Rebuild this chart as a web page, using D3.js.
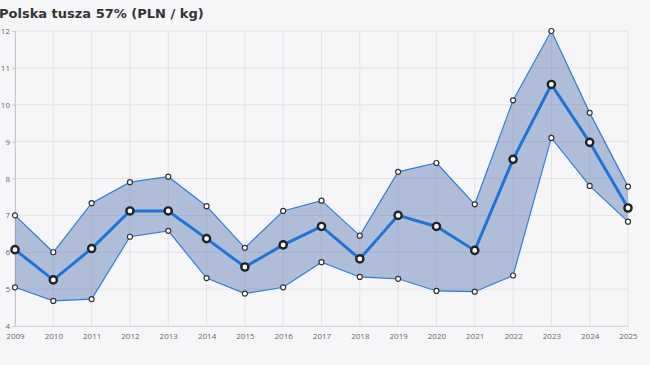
<!DOCTYPE html>
<html>
<head>
<meta charset="utf-8">
<script src="https://cdn.jsdelivr.net/npm/d3@7"></script>
<style>
  body { margin: 0; background: #f6f6f8; }
  svg { display: block; }
  .axis text { font-family: "Open Sans", sans-serif; font-size: 8px; fill: #666; }
  .grid line { stroke: #e3e3e6; }
</style>
</head>
<body>
<svg id="chart" width="650" height="365"></svg>
<script>
const years = [2009, 2010, 2011, 2012, 2013, 2014, 2015, 2016, 2017, 2018, 2019, 2020, 2021, 2022, 2023, 2024, 2025];
const upper = [7.0, 6.0, 7.33, 7.9, 8.05, 7.25, 6.12, 7.12, 7.4, 6.45, 8.18, 8.42, 7.3, 10.12, 12.0, 9.78, 7.78];
const mean = [6.07, 5.25, 6.1, 7.12, 7.12, 6.37, 5.6, 6.2, 6.7, 5.82, 7.0, 6.7, 6.05, 8.52, 10.55, 8.98, 7.2];
const lower = [5.05, 4.68, 4.73, 6.42, 6.58, 5.3, 4.88, 5.05, 5.73, 5.33, 5.28, 4.95, 4.93, 5.37, 9.1, 7.8, 6.83];
const yTicks = [4, 5, 6, 7, 8, 9, 10, 11, 12];
const title = "Polska tusza 57% (PLN / kg)";

const svg = d3.select("#chart"),
    margin = {top: 31, right: 22, bottom: 39, left: 15},
    width = +svg.attr("width") - margin.left - margin.right,
    height = +svg.attr("height") - margin.top - margin.bottom;

const x = d3.scalePoint().domain(years).range([0, width]),
    y = d3.scaleLinear().domain([4, 12]).range([height, 0]);

svg.append("text")
    .attr("x", -1)
    .attr("y", 18)
    .attr("font-family", "DejaVu Sans, sans-serif")
    .attr("font-weight", "bold")
    .attr("font-size", "13px")
    .attr("fill", "#333")
    .text(title);

const g = svg.append("g")
    .attr("transform", "translate(" + margin.left + "," + margin.top + ")");

// grid
g.append("g")
    .attr("class", "grid")
    .selectAll("line.h")
    .data(yTicks)
    .enter()
    .append("line")
    .attr("x1", 0)
    .attr("x2", width)
    .attr("y1", (d) => y(d))
    .attr("y2", (d) => y(d));

g.append("g")
    .attr("class", "grid")
    .selectAll("line.v")
    .data(years)
    .enter()
    .append("line")
    .attr("x1", (d) => x(d))
    .attr("x2", (d) => x(d))
    .attr("y1", 0)
    .attr("y2", height);

// axes
const yAxis = g.append("g")
    .attr("class", "axis")
    .call(d3.axisLeft(y).tickValues(yTicks).tickSize(3).tickPadding(2));
yAxis.select(".domain").attr("stroke", "#c8c8cc");
yAxis.selectAll(".tick line").attr("stroke", "#c8c8cc");

const xAxis = g.append("g")
    .attr("class", "axis")
    .attr("transform", "translate(0," + height + ")")
    .call(d3.axisBottom(x).tickSize(0).tickPadding(7));
xAxis.select(".domain").attr("stroke", "#d8d8dc");

// band
const area = d3.area()
    .x((d, i) => x(years[i]))
    .y0((d, i) => y(lower[i]))
    .y1((d) => y(d));

g.append("path")
    .datum(upper)
    .attr("d", area)
    .attr("fill", "rgba(70, 105, 170, 0.4)");

const line = d3.line()
    .x((d, i) => x(years[i]))
    .y((d) => y(d));

[upper, lower].forEach((s) => {
    g.append("path")
        .datum(s)
        .attr("d", line)
        .attr("fill", "none")
        .attr("stroke", "#2f7fd8")
        .attr("stroke-width", 1.2);
});

g.append("path")
    .datum(mean)
    .attr("d", line)
    .attr("fill", "none")
    .attr("stroke", "#1f74d6")
    .attr("stroke-width", 3);

[upper, lower].forEach((s) => {
    g.append("g")
        .selectAll("circle")
        .data(s)
        .enter()
        .append("circle")
        .attr("cx", (d, i) => x(years[i]))
        .attr("cy", (d) => y(d))
        .attr("r", 2.5)
        .attr("fill", "#fff")
        .attr("stroke", "#333")
        .attr("stroke-width", 1.2);
});

g.append("g")
    .selectAll("circle")
    .data(mean)
    .enter()
    .append("circle")
    .attr("cx", (d, i) => x(years[i]))
    .attr("cy", (d) => y(d))
    .attr("r", 3.6)
    .attr("fill", "#fff")
    .attr("stroke", "#222")
    .attr("stroke-width", 2.4);
</script>
</body>
</html>
